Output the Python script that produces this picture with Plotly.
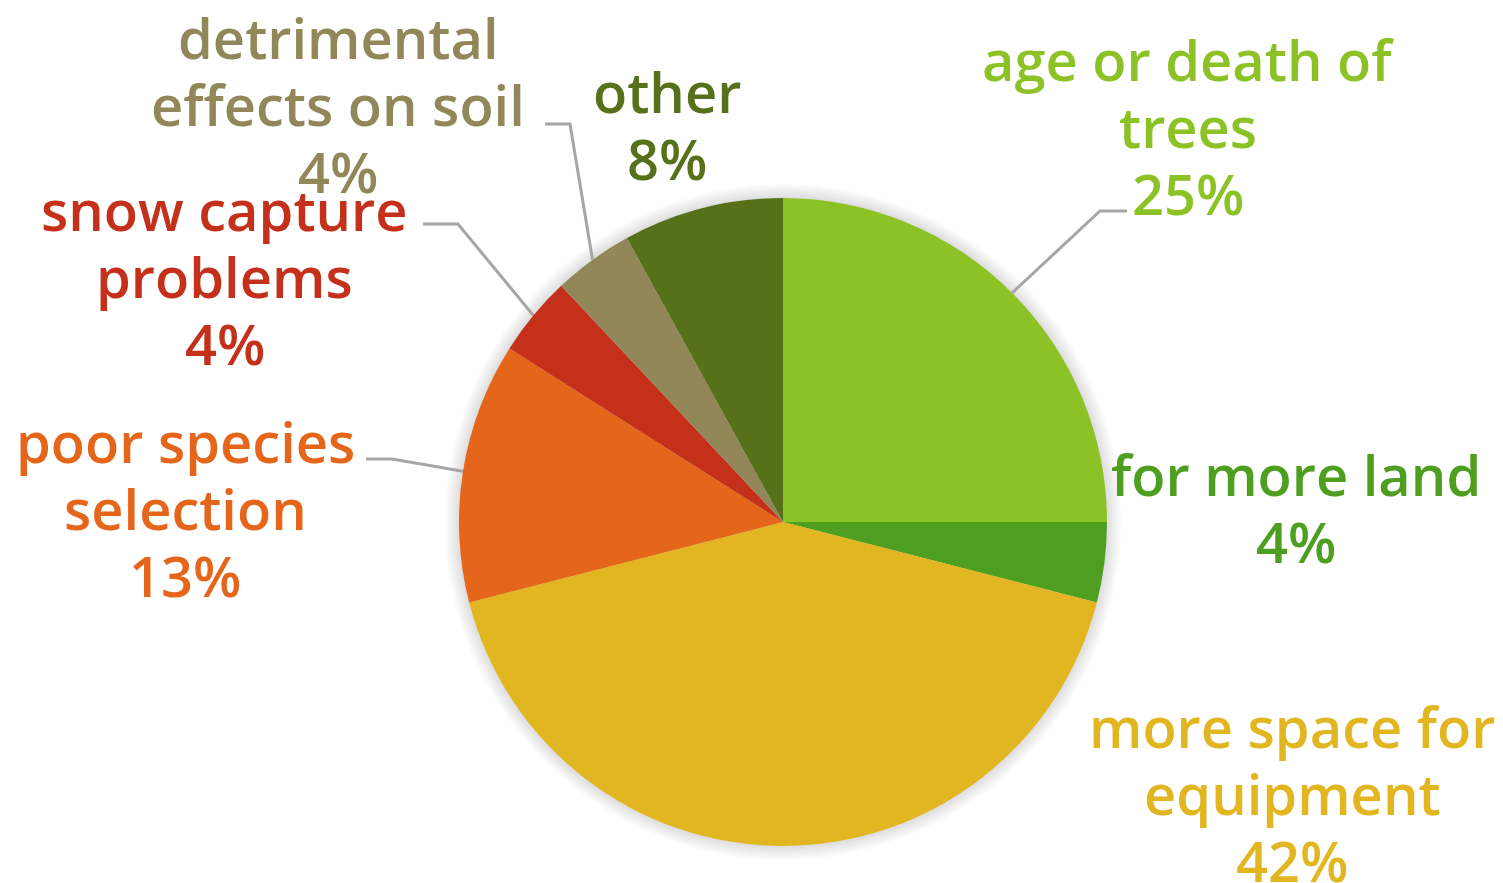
import math
import plotly.graph_objects as go

# Reasons for removing shelterbelt trees (share of responses)
labels = [
    "age or death of trees",
    "for more land",
    "more space for equipment",
    "poor species selection",
    "snow capture problems",
    "detrimental effects on soil",
    "other",
]
values = [25, 4, 42, 13, 4, 4, 8]
label_lines = [
    ["age or death of", "trees"],
    ["for more land"],
    ["more space for", "equipment"],
    ["poor species", "selection"],
    ["snow capture", "problems"],
    ["detrimental", "effects on soil"],
    ["other"],
]
colors = ["#8DC226", "#4E9F20", "#E2B620", "#E5661A", "#C4301A", "#928758", "#56711A"]

W, H = 1503, 883
CX, CY, R = 783, 522, 324
LINE = 67  # pixel spacing between label lines
FONT = dict(family="Open Sans", size=56, weight=600)

# centre of each label's first line (pixels) and optional leader elbow/end points
label_pos = [(1188, 59), (1296, 474), (1292, 726), (185, 441), (225, 209), (338, 37), (667, 91)]
leaders = [
    [(1100, 211), (1127, 211)],
    None,
    None,
    [(392, 459), (366, 459)],
    [(458, 224), (423, 224)],
    [(570, 124), (545, 124)],
    None,
]


def px(x, y):
    return x / W, 1 - y / H


fig = go.Figure(
    go.Pie(
        labels=labels,
        values=values,
        sort=False,
        direction="clockwise",
        rotation=0,
        marker=dict(colors=colors, line=dict(width=0)),
        textinfo="none",
        hoverinfo="label+percent",
        showlegend=False,
        domain=dict(
            x=[(CX - R) / W, (CX + R) / W],
            y=[1 - (CY + R) / H, 1 - (CY - R) / H],
        ),
    )
)

shapes = []
# soft shadow ring around the pie
for k in range(1, 12):
    rr = R + k * 1.3
    x0, y0 = px(CX - rr, CY + rr)
    x1, y1 = px(CX + rr, CY - rr)
    shapes.append(
        dict(type="circle", xref="paper", yref="paper", x0=x0, y0=y0, x1=x1, y1=y1,
             fillcolor="rgba(0,0,0,0.011)", line=dict(width=0), layer="below")
    )

total = sum(values)
annotations = []
cum = 0
for i, v in enumerate(values):
    mid = (cum + v / 2) / total * 2 * math.pi
    cum += v
    lines = label_lines[i] + [f"{v}%"]
    bx, by = label_pos[i]
    for j, line in enumerate(lines):
        lx, ly = px(bx, by + j * LINE)
        annotations.append(
            dict(
                x=lx, y=ly, xref="paper", yref="paper",
                text=line, showarrow=False,
                xanchor="center", yanchor="middle", align="center",
                font=dict(color=colors[i], **FONT),
            )
        )
    if leaders[i]:
        sx = CX + R * math.sin(mid)
        sy = CY - R * math.cos(mid)
        pts = [(sx, sy)] + leaders[i]
        path = "M " + " L ".join(f"{px(x, y)[0]},{px(x, y)[1]}" for x, y in pts)
        shapes.append(
            dict(type="path", path=path, xref="paper", yref="paper",
                 line=dict(color="#A6A6A6", width=3))
        )

fig.update_layout(
    width=W, height=H,
    margin=dict(l=0, r=0, t=0, b=0),
    paper_bgcolor="white",
    plot_bgcolor="white",
    annotations=annotations,
    shapes=shapes,
)

fig.write_html("out.html")
